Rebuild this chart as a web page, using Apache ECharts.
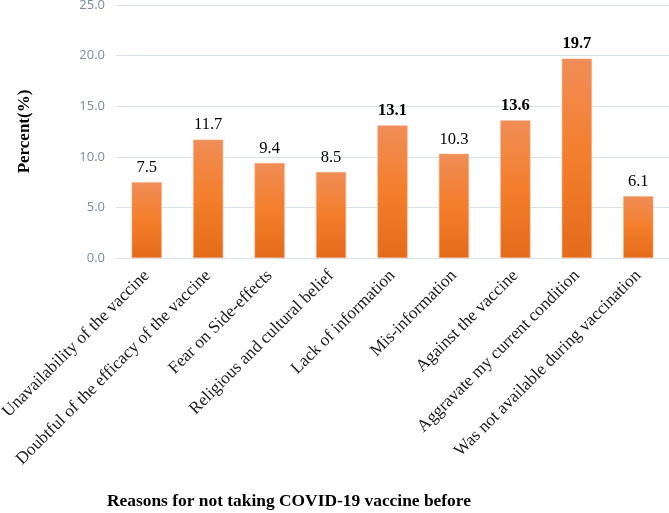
<!DOCTYPE html>
<html>
<head>
<meta charset="utf-8">
<script src="https://cdn.jsdelivr.net/npm/echarts@6/dist/echarts.min.js"></script>
<style>
  html, body { margin: 0; padding: 0; background: #fff; }
  #chart0 { width: 669px; height: 513px; }
</style>
</head>
<body>
<div id="chart0"></div>
<script>
// reasons and their percentages
var reasons = [
	"Unavailability of the vaccine",
	"Doubtful of the efficacy of the vaccine",
	"Fear on Side-effects",
	"Religious and cultural belief",
	"Lack of information",
	"Mis-information",
	"Against the vaccine",
	"Aggravate my current condition",
	"Was not available during vaccination"
];
var percents = [7.5, 11.7, 9.4, 8.5, 13.1, 10.3, 13.6, 19.7, 6.1];
// which value labels are printed in bold
var boldLabels = [false, false, false, false, true, false, true, true, false];
var yTicks = { min: 0, max: 25, interval: 5 };

var serif = '"Liberation Serif", "Times New Roman", serif';
var gridColor = '#d9e1ec';

var barData = percents.map(function(v, i) {
	return {
		value: v,
		label: { fontWeight: boldLabels[i] ? 'bold' : 'normal' }
	};
});

var myChart = echarts.init(document.getElementById("chart0"));

var option = {
	animation: false,
	grid: { left: 116, right: 0, top: 5, bottom: 255, containLabel: false, outerBoundsMode: 'none' },
	xAxis: {
		type: 'category',
		data: reasons,
		axisLine: { lineStyle: { color: gridColor, width: 1 } },
		axisTick: { show: false },
		axisLabel: {
			rotate: 45,
			interval: 0,
			margin: 15,
			fontFamily: serif,
			fontSize: 17.3,
			color: '#1a1a1a'
		}
	},
	yAxis: {
		type: 'value',
		min: yTicks.min,
		max: yTicks.max,
		interval: yTicks.interval,
		name: 'Percent(%)',
		nameLocation: 'middle',
		nameGap: 83,
		nameTextStyle: {
			fontFamily: serif,
			fontSize: 17,
			fontWeight: 'bold',
			color: '#000'
		},
		axisLine: { show: false },
		axisTick: { show: false },
		splitLine: { lineStyle: { color: gridColor, width: 1 } },
		axisLabel: {
			margin: 11,
			fontFamily: '"Open Sans", "Noto Sans", sans-serif',
			fontSize: 13,
			color: '#7d8ba3',
			formatter: function(v) { return v.toFixed(1); }
		}
	},
	graphic: [{
		type: 'text',
		left: 107,
		top: 493,
		style: {
			text: 'Reasons for not taking COVID-19 vaccine before',
			font: 'bold 17.4px ' + serif,
			fill: '#000'
		}
	}],
	series: [{
		type: 'bar',
		data: barData,
		barWidth: '49%',
		itemStyle: {
			color: new echarts.graphic.LinearGradient(0, 0, 0, 1, [
				{ offset: 0, color: '#f08d57' },
				{ offset: 0.5, color: '#f47e2b' },
				{ offset: 1, color: '#e46b19' }
			]),
			borderColor: '#f6ad85',
			borderWidth: 0.6
		},
		label: {
			show: true,
			position: 'top',
			distance: 6,
			fontFamily: serif,
			fontSize: 16.5,
			color: '#000',
			formatter: function(p) { return p.value.toFixed(1); }
		}
	}]
};

myChart.setOption(option);
</script>
</body>
</html>
